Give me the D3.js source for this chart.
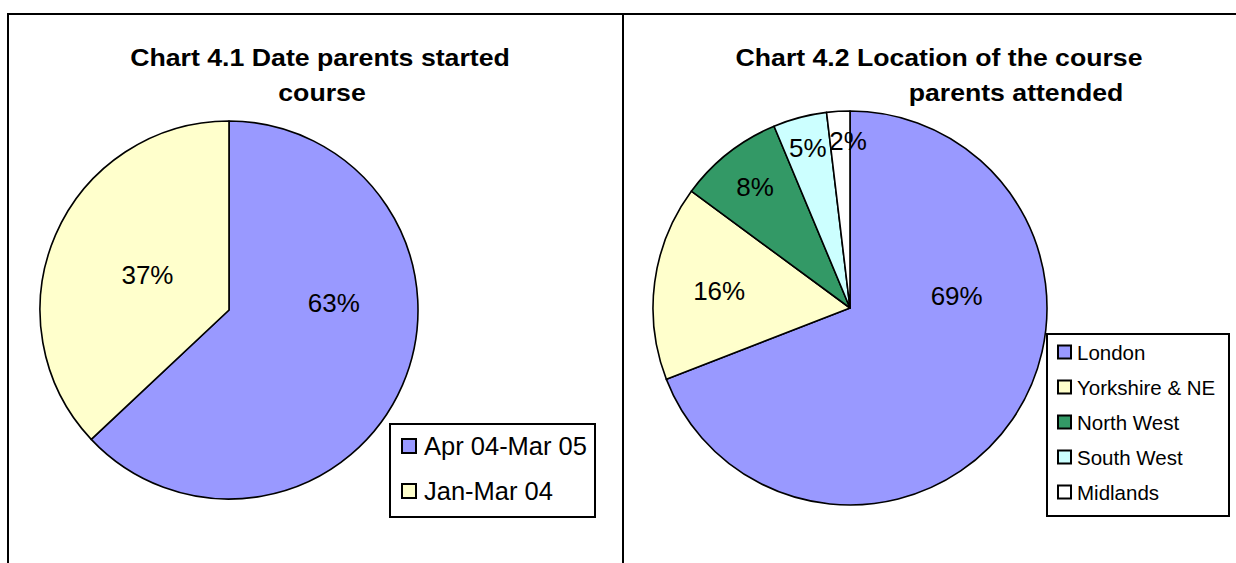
<!DOCTYPE html>
<html><head><meta charset="utf-8">
<script src="https://cdn.jsdelivr.net/npm/d3@7"></script>
<style>html,body{margin:0;padding:0;background:#fff;}svg{display:block;font-family:"Liberation Sans",Arial,sans-serif;}</style>
</head><body>
<svg id="c" width="1236" height="563"></svg>
<script>
// Chart 4.1
const cats1 = ["Apr 04-Mar 05", "Jan-Mar 04"];
const vals1 = [63, 37];
const labels1 = ["63%", "37%"];
const colors1 = ["#9999FF", "#FFFFCC"];
// Chart 4.2
const cats2 = ["London", "Yorkshire & NE", "North West", "South West", "Midlands"];
const vals2 = [69.1, 16.0, 8.6, 4.4, 1.9];
const labels2 = ["69%", "16%", "8%", "5%", "2%"];
const colors2 = ["#9999FF", "#FFFFCC", "#339966", "#CCFFFF", "#FFFFFF"];

const svg = d3.select("#c");
// frame
svg.append("path").attr("d", "M8,563 L8,14 L1236,14").attr("fill","none").attr("stroke","#000").attr("stroke-width",2);
svg.append("line").attr("x1",623).attr("x2",623).attr("y1",14).attr("y2",563).attr("stroke","#000").attr("stroke-width",2);

function drawPie(cfg){
  const g = svg.append("g").attr("transform",`translate(${cfg.cx},${cfg.cy})`);
  const pie = d3.pie().sort(null).value(d=>d)(cfg.vals);
  const arc = d3.arc().innerRadius(0).outerRadius(cfg.r);
  g.selectAll("path.s").data(pie).join("path").attr("class","s")
    .attr("d",arc).attr("fill",(d,i)=>cfg.colors[i]).attr("stroke","#000").attr("stroke-width",1.6).attr("stroke-linejoin","round");
  g.selectAll("text.l").data(pie).join("text").attr("class","l")
    .each(function(d,i){
      const span = d.endAngle - d.startAngle;
      const a = d.startAngle + span*cfg.labelFrac[i];
      const rr = cfg.r*cfg.labelR[i];
      d3.select(this).attr("x", rr*Math.sin(a)).attr("y", -rr*Math.cos(a));
    })
    .attr("text-anchor","middle").attr("dominant-baseline","central")
    .attr("font-size",cfg.labelSize).text((d,i)=>cfg.labels[i]);
  // title (horizontally stretched to match the reference)
  const t = svg.append("g");
  const nodes = cfg.title.map(line => t.append("text").attr("x",0).attr("y",line.y).attr("text-anchor","middle")
      .attr("font-weight","bold").attr("font-size",24).text(line.t));
  const natural = nodes[0].node().getComputedTextLength();
  const k = cfg.titleW / natural;
  nodes.forEach((n,i)=> n.attr("transform",`translate(${cfg.title[i].x},0) scale(${k},1)`));
  // legend
  const L = cfg.legend;
  svg.append("rect").attr("x",L.x).attr("y",L.y).attr("width",L.w).attr("height",L.h)
    .attr("fill","#fff").attr("stroke","#000").attr("stroke-width",2);
  const lg = svg.append("g");
  cfg.cats.forEach((c,i)=>{
    const yc = L.y + L.first + i*L.step;
    lg.append("rect").attr("x",L.x+L.sx).attr("y",yc-L.sw/2).attr("width",L.sw).attr("height",L.sw)
      .attr("fill",cfg.colors[i]).attr("stroke","#000").attr("stroke-width",2);
    lg.append("text").attr("x",L.tx).attr("y",yc).attr("dominant-baseline","central")
      .attr("font-size",L.fs).text(c);
  });
}

drawPie({cx:229, cy:310, r:189, vals:vals1, colors:colors1, labels:labels1, cats:cats1,
  labelFrac:[0.379,0.5], labelR:[0.556,0.47], labelSize:26,
  title:[{t:"Chart 4.1 Date parents started",x:320,y:66},{t:"course",x:322,y:101}], titleW:380,
  legend:{x:390,y:424,w:205,h:93,first:22,step:45,sx:12,sw:14,tx:424,fs:25.5}});

drawPie({cx:850, cy:308, r:197, vals:vals2, colors:colors2, labels:labels2, cats:cats2,
  labelFrac:[0.336,0.5,0.5,0.5,0.9], labelR:[0.545,0.67,0.78,0.84,0.85], labelSize:26,
  title:[{t:"Chart 4.2 Location of the course",x:939,y:66},{t:"parents attended",x:1016,y:101}], titleW:407,
  legend:{x:1047,y:334,w:182,h:182,first:18,step:35,sx:11,sw:13,tx:1077,fs:20.5}});
</script>
</body></html>
